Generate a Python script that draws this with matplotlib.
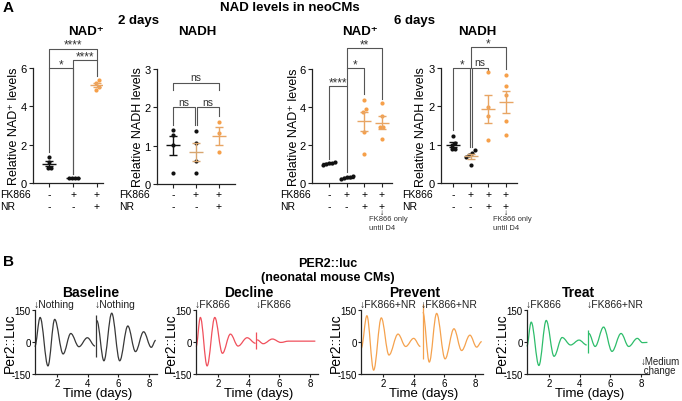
import numpy as np
import matplotlib
matplotlib.use('Agg')
import matplotlib.pyplot as plt
from matplotlib.path import Path
from matplotlib.patches import PathPatch

plt.rcParams['font.family'] = ['Liberation Sans', 'DejaVu Sans']
plt.rcParams['axes.unicode_minus'] = False

W, H = 682, 402

# ---- A: relative NAD+/NADH levels, one list per group ----
nad_2d = [[1.35, 1.10, 0.80, 0.80], [0.25, 0.27, 0.28, 0.25], [5.35, 5.20, 5.00, 4.85]]
nadh_2d = [[1.42, 1.29, 1.02, 0.29], [1.37, 1.07, 0.61, 0.29], [1.63, 1.33, 0.83]]
nad_6d = [[1.10, 1.05, 1.05, 1.00, 0.95], [0.35, 0.30, 0.30, 0.25, 0.20],
          [4.37, 3.90, 3.72, 2.67, 1.53], [4.20, 3.55, 2.93, 2.93, 2.30]]
nadh_6d = [[1.22, 1.05, 0.98, 0.88, 0.88], [0.85, 0.77, 0.72, 0.68, 0.48],
           [2.89, 1.98, 1.76, 1.13], [2.82, 2.52, 2.30, 1.63, 1.26]]

fk866_2d = ['-', '+', '+']
nr_2d = ['-', '-', '+']
fk866_6d = ['-', '+', '+', '+']
nr_6d = ['-', '-', '+', '+']

# brackets: x1, x2, bar height, left leg end, right leg end, label
sig_nad_2d = [(0, 1, 6.0, 1.6, 0.45, '*'), (1, 2, 6.4, 0.45, 5.6, '****'),
              (0, 2, 7.0, 6.0, 6.4, '****')]
sig_nadh_2d = [(0, 0.95, 2.0, 1.54, 1.54, 'ns'), (1.05, 2, 2.0, 1.54, 1.78, 'ns'),
               (0, 2, 2.63, 2.46, 2.46, 'ns')]
sig_nad_6d = [(0, 1, 5.09, 1.26, 0.56, '****'), (1, 2, 6.03, 5.09, 4.68, '*'),
              (1, 3, 7.1, 6.03, 4.42, '**')]
sig_nadh_6d = [(0, 0.95, 3.0, 1.37, 0.95, '*'), (1.05, 2, 3.0, 0.95, 2.95, 'ns'),
               (1, 3, 3.55, 3.0, 2.98, '*')]

# ---- B: PER2::luc traces, peaks/troughs (days, signal) ----
base_t1 = [0.55, 0.90, 1.41, 1.85, 2.40, 2.90, 3.43, 3.98, 4.48]
base_y1 = [-22, 115, -112, 106, -56, 40, -22, 20, -19]
base_t2 = [4.60, 5.06, 5.57, 6.09, 6.62, 7.12, 7.65, 8.15, 8.44]
base_y2 = [100, -88, 135, -88, 75, -45, 48, -25, 8]
base_spike = (4.57, -70, 125)

decl_t1 = [0.57, 0.85, 1.29, 1.79, 2.29, 2.81, 3.31, 3.90, 4.45]
decl_y1 = [-22, 115, -112, 115, -53, 37, -19, 20, -6]
decl_t2 = [4.55, 4.95, 5.55, 6.10, 6.60, 8.35]
decl_y2 = [10, -8, 14, -2, 4, 4]
decl_spike = (4.51, -34, 48)

prev_t1 = [0.58, 0.95, 1.39, 1.89, 2.39, 2.98, 3.48, 4.00, 4.44]
prev_y1 = [-29, 123, -132, 113, -61, 37, -21, 17, -21]
prev_t2 = [4.60, 5.02, 5.50, 6.05, 6.63, 7.13, 7.67, 8.11, 8.44]
prev_y2 = [140, -94, 134, -79, 62, -40, 32, -24, 2]
prev_spike = (4.58, -82, 180)

treat_t1 = [0.55, 0.84, 1.34, 1.82, 2.33, 2.86, 3.41, 3.96, 4.46]
treat_y1 = [-21, 93, -110, 101, -67, 21, -14, 9, -14]
treat_t2 = [4.60, 5.01, 5.56, 6.11, 6.70, 7.20, 7.76, 8.10, 8.42]
treat_y2 = [40, -21, 70, -44, 40, -21, 17, -3, -2]
treat_spike = (4.57, -52, 58)

treat_days = [0.5, 4.5]

BLACK = '#111111'
ORANGE = '#F6A04A'
ORANGE_BAR = '#E8A564'
TAN = '#D8A670'
GRAY = '#555555'


def rect(l, t, r, b):
    return [l / W, 1 - b / H, (r - l) / W, (b - t) / H]


def ftext(x, y, s, **kw):
    fig.text(x / W, 1 - y / H, s, **kw)


def swarm(vals, pos, step, thr):
    vals = np.asarray(vals)
    order = np.argsort(vals)
    xs = np.full(len(vals), float(pos))
    clusters = [[order[0]]]
    for i in order[1:]:
        if vals[i] - vals[clusters[-1][-1]] < thr:
            clusters[-1].append(i)
        else:
            clusters.append([i])
    for c in clusters:
        off = (np.arange(len(c)) - (len(c) - 1) / 2) * step
        xs[c] = pos + off
    return xs


def dot_panel(ax, groups, pt_cols, bar_cols, xlim, ylim, yticks, width_px):
    ax.set_xlim(*xlim)
    ax.set_ylim(*ylim)
    upx = (xlim[1] - xlim[0]) / width_px
    for i, g in enumerate(groups):
        xs = swarm(g, i, 3.0 * upx, 0.03 * ylim[1])
        ax.scatter(xs, g, s=9, color=pt_cols[i], zorder=3, linewidths=0, clip_on=False)
        m = np.mean(g)
        se = np.std(g, ddof=1) / np.sqrt(len(g))
        c = bar_cols[i]
        ax.hlines(m, i - 7 * upx, i + 7 * upx, color=c, lw=1.0, zorder=4)
        ax.vlines(i, m - se, m + se, color=c, lw=1.0, zorder=4)
        ax.hlines([m - se, m + se], i - 4 * upx, i + 4 * upx, color=c, lw=1.0, zorder=4)
    ax.set_yticks(yticks)
    ax.set_xticks(range(len(groups)))
    ax.set_xticklabels([])
    for s in ['top', 'right']:
        ax.spines[s].set_visible(False)
    for s in ['left', 'bottom']:
        ax.spines[s].set_linewidth(0.9)
        ax.spines[s].set_color('#222222')
    ax.tick_params(length=3, width=0.8, labelsize=8, pad=1.5, color='#222222')


def brackets(ax, sig):
    for x1, x2, top, b1, b2, lab in sig:
        ax.plot([x1, x1, x2, x2], [b1, top, top, b2], color=GRAY, lw=0.8, clip_on=False)
        if lab == 'ns':
            fs, dy = 7.5, 0.5
        else:
            fs, dy = 8.5, -1.5
        ax.annotate(lab, ((x1 + x2) / 2, top), xytext=(0, dy), textcoords='offset points',
                    ha='center', va='bottom', fontsize=fs, color='#333333', annotation_clip=False)


def treat_rows(ax, fk, nr, lab_x, y1=195, y2=207):
    ftext(lab_x, y1, 'FK866', fontsize=7.5, va='center', ha='left')
    ftext(lab_x, y2, 'NR', fontsize=7.5, va='center', ha='left')
    for i, (a, b) in enumerate(zip(fk, nr)):
        xd = ax.transData.transform((i, 0))[0] * W / fig.bbox.width
        ftext(xd, y1, a, fontsize=7.5, va='center', ha='center')
        ftext(xd, y2, b, fontsize=7.5, va='center', ha='center')


def smooth(ax, ts, ys, color):
    verts = [(ts[0], ys[0])]
    codes = [Path.MOVETO]
    for i in range(1, len(ts)):
        t0, y0, t1, y1 = ts[i - 1], ys[i - 1], ts[i], ys[i]
        d = (t1 - t0) * 0.36
        verts += [(t0 + d, y0), (t1 - d, y1), (t1, y1)]
        codes += [Path.CURVE4] * 3
    ax.add_patch(PathPatch(Path(verts, codes), fill=False, edgecolor=color, lw=0.9,
                           clip_on=False))


fig = plt.figure(figsize=(W / 100, H / 100), dpi=100)

# ---------------- A ----------------
ax1 = fig.add_axes(rect(33, 69, 103, 184))
dot_panel(ax1, nad_2d, [BLACK, BLACK, ORANGE], [BLACK, BLACK, ORANGE_BAR],
          (-0.67, 2.25), (0, 6), [0, 2, 4, 6], 70)
brackets(ax1, sig_nad_2d)

ax2 = fig.add_axes(rect(157, 70, 235, 185))
dot_panel(ax2, nadh_2d, [BLACK, BLACK, ORANGE], [BLACK, TAN, ORANGE_BAR],
          (-0.7, 2.7), (0, 3), [0, 1, 2, 3], 78)
brackets(ax2, sig_nadh_2d)

ax3 = fig.add_axes(rect(312, 70, 392, 184))
dot_panel(ax3, nad_6d, [BLACK, BLACK, ORANGE, ORANGE], [BLACK, BLACK, ORANGE_BAR, ORANGE_BAR],
          (-0.97, 3.57), (0, 6), [0, 2, 4, 6], 80)
brackets(ax3, sig_nad_6d)

ax4 = fig.add_axes(rect(441, 69, 517, 184))
dot_panel(ax4, nadh_6d, [BLACK, BLACK, ORANGE, ORANGE], [BLACK, TAN, ORANGE_BAR, ORANGE_BAR],
          (-0.7, 3.64), (0, 3), [0, 1, 2, 3], 76)
brackets(ax4, sig_nadh_6d)

treat_rows(ax1, fk866_2d, nr_2d, 0)
treat_rows(ax2, fk866_2d, nr_2d, 119)
treat_rows(ax3, fk866_6d, nr_6d, 280)
treat_rows(ax4, fk866_6d, nr_6d, 402)

for ax, x in [(ax3, 369), (ax4, 493)]:
    xd = ax.transData.transform((3, 0))[0] * W / fig.bbox.width
    ftext(xd, 214, '↓', fontsize=6, ha='center', va='center')
    ftext(x, 220, 'FK866 only', fontsize=5.5, ha='left', va='center', color='#333333')
    ftext(x, 229, 'until D4', fontsize=5.5, ha='left', va='center', color='#333333')

ylab = dict(rotation=90, ha='center', va='center', fontsize=9)
ftext(14, 126, 'Relative NAD⁺ levels', **ylab)
ftext(138, 127, 'Relative NADH levels', **ylab)
ftext(294, 127, 'Relative NAD⁺ levels', **ylab)
ftext(421, 127, 'Relative NADH levels', **ylab)

ftext(3, 8, 'A', fontsize=11, fontweight='bold', va='center')
ftext(290, 8, 'NAD levels in neoCMs', fontsize=9.5, fontweight='bold', ha='center', va='center')
ftext(138, 21, '2 days', fontsize=9.5, fontweight='bold', ha='center', va='center')
ftext(414, 21, '6 days', fontsize=9.5, fontweight='bold', ha='center', va='center')
for x, s in [(86, 'NAD⁺'), (197, 'NADH'), (360, 'NAD⁺'), (477, 'NADH')]:
    ftext(x, 32, s, fontsize=9.5, fontweight='bold', ha='center', va='center')

# ---------------- B ----------------
ftext(3, 262, 'B', fontsize=11, fontweight='bold', va='center')
ftext(328, 264, 'PER2::luc', fontsize=9, fontweight='bold', ha='center', va='center')
ftext(328, 278, '(neonatal mouse CMs)', fontsize=9, fontweight='bold', ha='center', va='center')

traces = [
    ('Baseline', '#383838', base_t1, base_y1, base_t2, base_y2, base_spike, ['Nothing', 'Nothing'], 57, 91),
    ('Decline', '#F0505C', decl_t1, decl_y1, decl_t2, decl_y2, decl_spike, ['FK866', 'FK866'], 218, 249),
    ('Prevent', '#F5A24E', prev_t1, prev_y1, prev_t2, prev_y2, prev_spike, ['FK866+NR', 'FK866+NR'], 383, 415),
    ('Treat', '#2EBD6B', treat_t1, treat_y1, treat_t2, treat_y2, treat_spike, ['FK866', 'FK866+NR'], 549, 578),
]
for title, col, t1, y1, t2, y2, spike, labs, x2px, tx in traces:
    left = x2px - (2 - 0.55) * 15.33
    right = left + 7.95 * 15.33
    ax = fig.add_axes(rect(left, 311, right, 375))
    ax.set_xlim(0.55, 8.5)
    ax.set_ylim(-150, 150)
    smooth(ax, t1, y1, col)
    smooth(ax, t2, y2, col)
    ax.vlines(spike[0], spike[1], spike[2], color=col, lw=0.9, clip_on=False)
    ax.set_yticks([-150, 0, 150])
    ax.set_xticks([2, 4, 6, 8])
    for s in ['top', 'right']:
        ax.spines[s].set_visible(False)
    for s in ['left', 'bottom']:
        ax.spines[s].set_linewidth(0.9)
        ax.spines[s].set_color('#222222')
    ax.tick_params(length=2.5, width=0.8, labelsize=7, pad=0.5, color='#222222')
    ftext((left + right) / 2 + 2, 394.5, 'Time (days)', fontsize=9.5, ha='center', va='center')
    ftext(left - 25, 343, 'Per2::Luc', fontsize=10, rotation=90, ha='center', va='center')
    for d, lab in zip(treat_days, labs):
        ax.text(d - 0.05, 1.02, '↓' + lab, transform=ax.get_xaxis_transform(),
                fontsize=7.5, ha='left', va='bottom', color='#222222')
    ftext(tx, 293, title, fontsize=10, fontweight='bold', ha='center', va='center')
    if title == 'Treat':
        ax.text(8.0, -110, '↓Medium\n change', fontsize=7, ha='left', va='center',
                color='#222222', linespacing=0.9)

fig.savefig('out.png', dpi=100)
